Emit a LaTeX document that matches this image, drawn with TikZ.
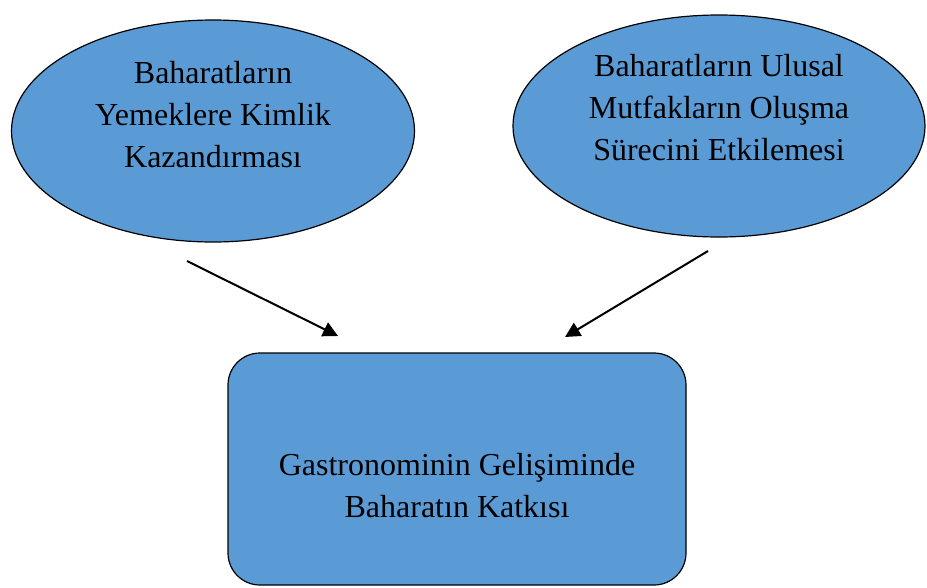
\documentclass[tikz,border=0pt]{standalone}
\usepackage{fontspec}
\setmainfont{Liberation Serif}
\usetikzlibrary{shapes.geometric,arrows.meta}
\definecolor{boxblue}{HTML}{5B9BD5}
\begin{document}
\begin{tikzpicture}[x=1pt,y=-1pt,
  shapebox/.style={fill=boxblue,draw=black,line width=1.2pt,inner sep=0pt},
  oval/.style={shapebox,ellipse,minimum width=403pt,minimum height=222pt},
  rbox/.style={shapebox,rectangle,rounded corners=32pt,minimum width=458pt,minimum height=232pt},
  txt/.style={font=\fontsize{32}{42}\selectfont,align=center,inner sep=0pt},
  conn/.style={line width=2pt,-{Triangle[length=15pt,width=15pt]}}]
\useasboundingbox (0,0) rectangle (927,587);
\node[oval] (left) at (213,131) {};
\node[oval,minimum width=412pt] (right) at (719,126) {};
\node[rbox] (main) at (457,469) {};
\node[txt] (lefttxt) at ([yshift=16pt]left.center) {Baharatların\\Yemeklere Kimlik\\Kazandırması};
\node[txt] (righttxt) at ([yshift=18pt]right.center) {Baharatların Ulusal\\Mutfakların Oluşma\\Sürecini Etkilemesi};
\node[txt] (maintxt) at ([yshift=-17pt]main.center) {Gastronominin Gelişiminde\\Baharatın Katkısı};
\coordinate (a1) at (187,261);
\coordinate (a1e) at (338,336);
\coordinate (a2) at (708,251);
\coordinate (a2e) at (565,337);
\draw[conn] (a1) -- (a1e);
\draw[conn] (a2) -- (a2e);
\end{tikzpicture}
\end{document}
